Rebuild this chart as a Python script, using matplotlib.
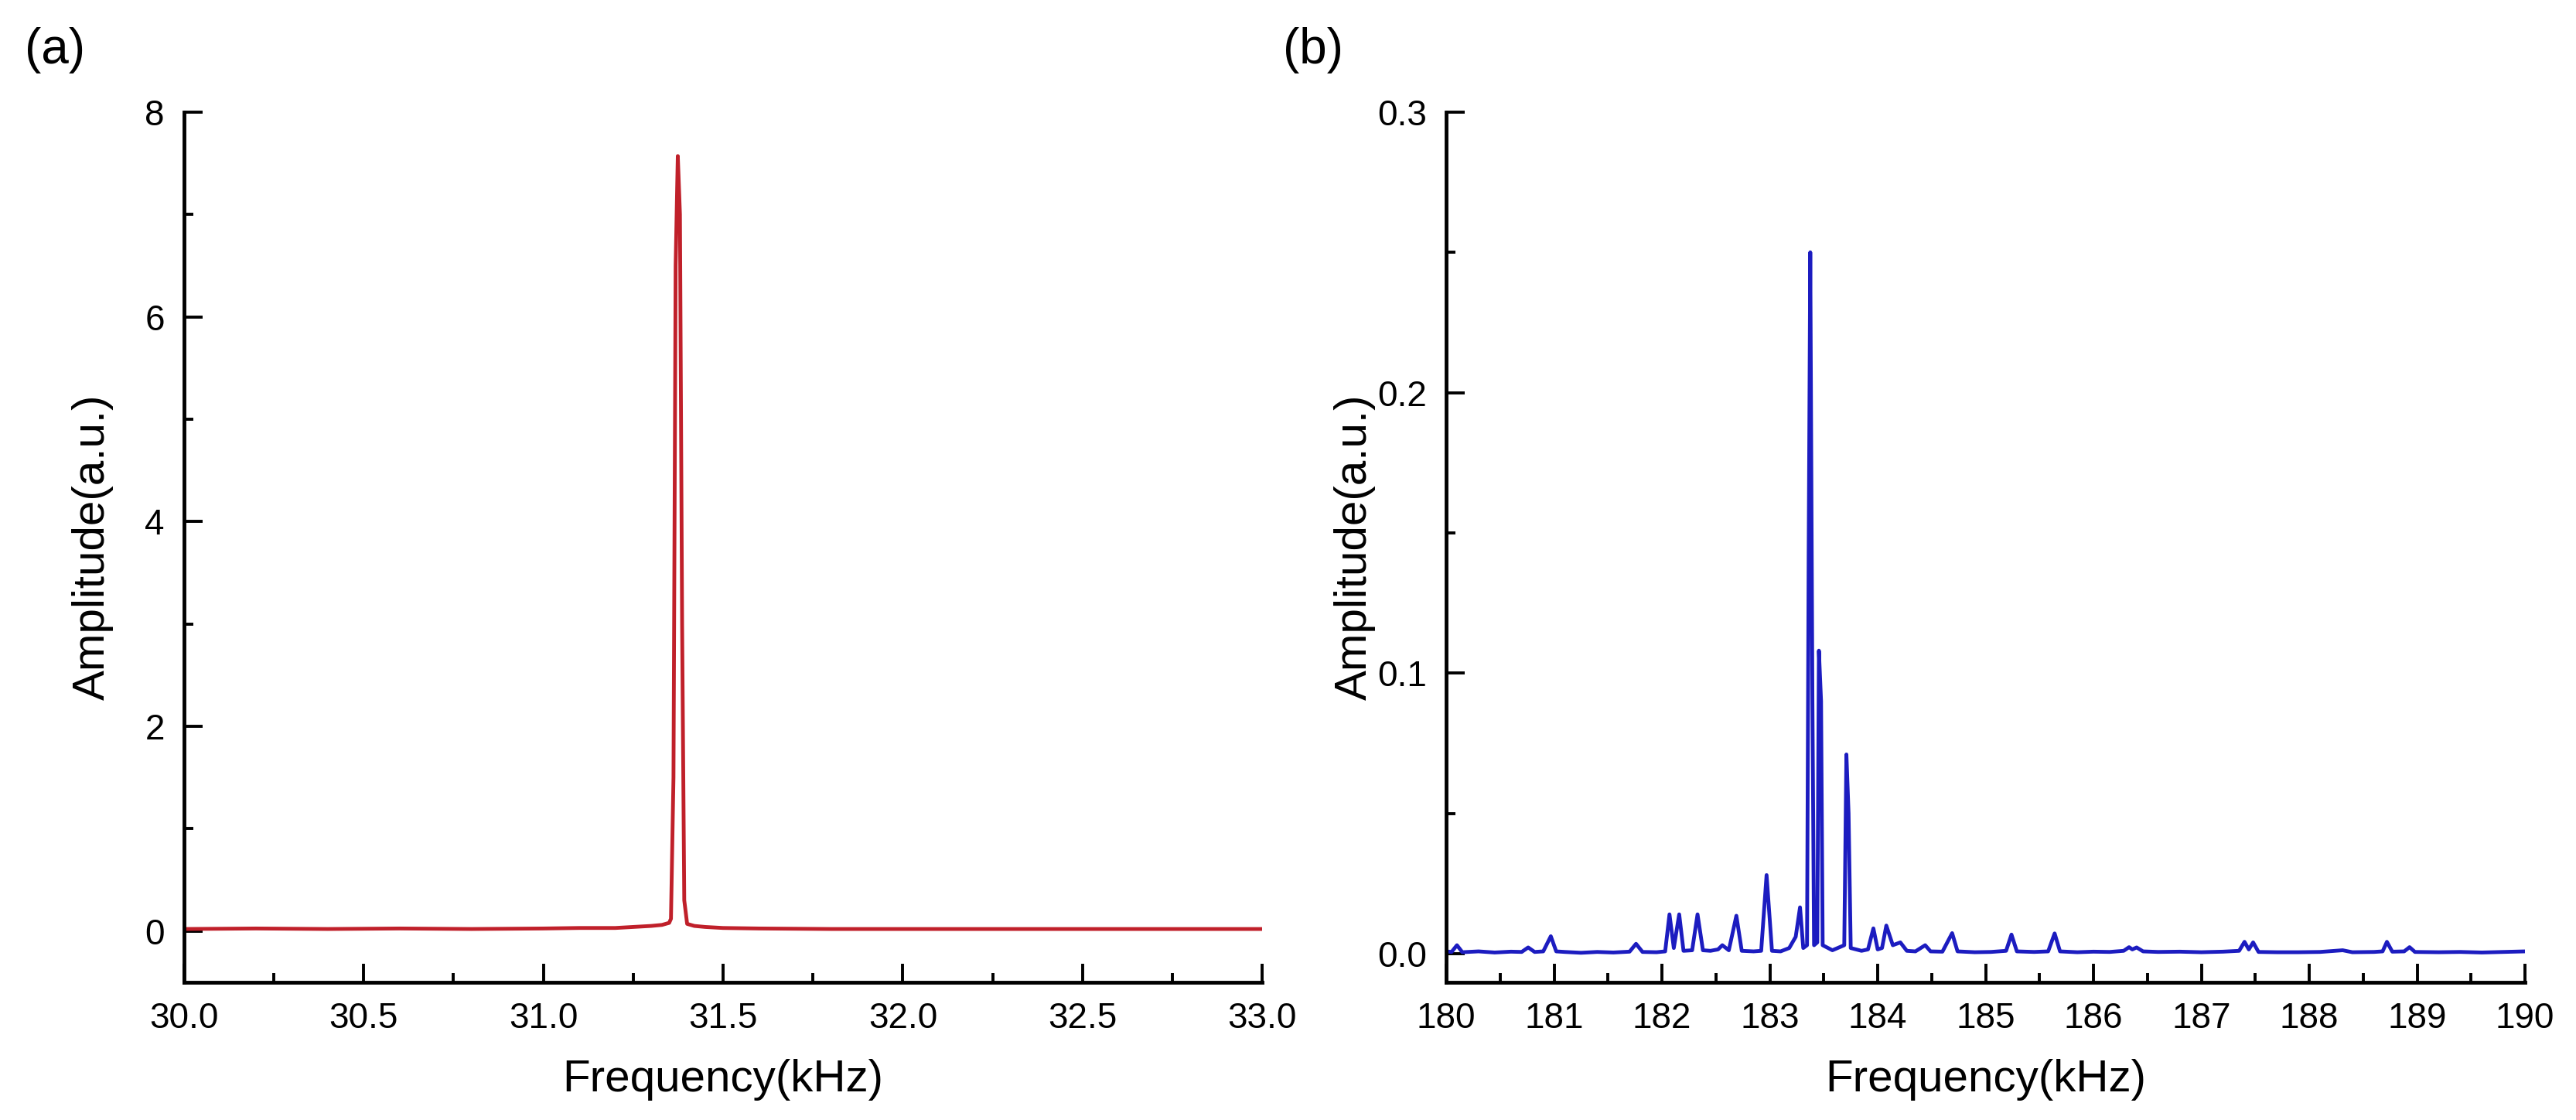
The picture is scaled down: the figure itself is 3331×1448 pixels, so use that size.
import matplotlib
matplotlib.use("Agg")
import matplotlib.pyplot as plt
from matplotlib.ticker import MultipleLocator, FormatStrFormatter

plt.rcParams['font.family'] = ['Liberation Sans', 'DejaVu Sans']

# (a) spectrum around the fundamental, kHz / a.u.
freq_a = [30.00, 30.20, 30.40, 30.60, 30.80, 31.00, 31.10, 31.20, 31.25, 31.30,
          31.33, 31.35, 31.355, 31.362, 31.368, 31.374, 31.380, 31.386, 31.392, 31.40,
          31.42, 31.45, 31.50, 31.60, 31.80, 32.00, 32.20, 32.40, 32.60, 32.80, 33.00]
amp_a = [0.02, 0.025, 0.02, 0.025, 0.02, 0.025, 0.03, 0.03, 0.04, 0.05,
         0.06, 0.08, 0.12, 1.5, 6.5, 7.57, 7.0, 3.0, 0.3, 0.07,
         0.05, 0.04, 0.03, 0.025, 0.02, 0.02, 0.02, 0.02, 0.02, 0.02, 0.02]

# (b) spectrum around 180-190 kHz
freq_b = [180.00, 180.05, 180.10, 180.15, 180.30, 180.45, 180.60, 180.70, 180.76, 180.82,
          180.90, 180.97, 181.02, 181.10, 181.25, 181.40, 181.55, 181.70, 181.76, 181.82,
          181.95, 182.03, 182.07, 182.11, 182.16, 182.20, 182.28, 182.33, 182.38, 182.45,
          182.52, 182.56, 182.62, 182.69, 182.74, 182.85, 182.92, 182.97, 183.02, 183.10,
          183.18, 183.24, 183.28, 183.31, 183.345, 183.36, 183.375, 183.395, 183.41, 183.44,
          183.455, 183.475, 183.49, 183.58, 183.69, 183.71, 183.73, 183.75, 183.85, 183.91,
          183.96, 184.00, 184.04, 184.08, 184.14, 184.21, 184.27, 184.35, 184.44, 184.49,
          184.60, 184.69, 184.74, 184.90, 185.05, 185.19, 185.24, 185.29, 185.45, 185.58,
          185.64, 185.69, 185.85, 186.00, 186.15, 186.28, 186.33, 186.36, 186.40, 186.46,
          186.60, 186.80, 187.00, 187.20, 187.35, 187.40, 187.44, 187.48, 187.53, 187.70,
          187.90, 188.10, 188.31, 188.40, 188.60, 188.68, 188.72, 188.77, 188.88, 188.93,
          188.98, 189.20, 189.40, 189.60, 189.80, 190.00]
amp_b = [0.0008, 0.0006, 0.0030, 0.0005, 0.0008, 0.0004, 0.0007, 0.0006, 0.0022, 0.0006,
         0.0008, 0.0062, 0.0008, 0.0006, 0.0003, 0.0006, 0.0004, 0.0007, 0.0035, 0.0006,
         0.0005, 0.0008, 0.0140, 0.0020, 0.0140, 0.0010, 0.0012, 0.0140, 0.0012, 0.0010,
         0.0015, 0.0030, 0.0012, 0.0135, 0.0010, 0.0008, 0.0010, 0.0280, 0.0010, 0.0008,
         0.0020, 0.0060, 0.0165, 0.0020, 0.0030, 0.1420, 0.2500, 0.0900, 0.0030, 0.0040,
         0.1080, 0.0900, 0.0030, 0.0012, 0.0030, 0.0710, 0.0500, 0.0020, 0.0010, 0.0015,
         0.0090, 0.0015, 0.0020, 0.0100, 0.0030, 0.0040, 0.0010, 0.0008, 0.0030, 0.0008,
         0.0007, 0.0073, 0.0008, 0.0005, 0.0006, 0.0010, 0.0068, 0.0008, 0.0006, 0.0008,
         0.0072, 0.0008, 0.0005, 0.0007, 0.0006, 0.0010, 0.0023, 0.0015, 0.0022, 0.0008,
         0.0006, 0.0007, 0.0005, 0.0007, 0.0010, 0.0042, 0.0015, 0.0040, 0.0006, 0.0005,
         0.0005, 0.0006, 0.0012, 0.0005, 0.0006, 0.0008, 0.0042, 0.0007, 0.0008, 0.0023,
         0.0006, 0.0005, 0.0006, 0.0004, 0.0006, 0.0008]

fig = plt.figure(figsize=(33.31, 14.48), dpi=100)
ax_a = fig.add_axes([0.0714, 0.123, 0.4186, 0.777])
ax_b = fig.add_axes([0.5614, 0.123, 0.4188, 0.777])

ax_a.plot(freq_a, amp_a, color='#c0202a', lw=3.5)
ax_b.plot(freq_b, amp_b, color='#1c1cc0', lw=3.5)

ax_a.set_xlim(30, 33)
ax_a.set_ylim(-0.5, 8)
ax_a.xaxis.set_major_locator(MultipleLocator(0.5))
ax_a.xaxis.set_minor_locator(MultipleLocator(0.25))
ax_a.xaxis.set_major_formatter(FormatStrFormatter('%.1f'))
ax_a.yaxis.set_major_locator(MultipleLocator(2))
ax_a.yaxis.set_minor_locator(MultipleLocator(1))

ax_b.set_xlim(180, 190)
ax_b.set_ylim(-0.0102, 0.3)
ax_b.xaxis.set_major_locator(MultipleLocator(1))
ax_b.xaxis.set_minor_locator(MultipleLocator(0.5))
ax_b.yaxis.set_major_locator(MultipleLocator(0.1))
ax_b.yaxis.set_minor_locator(MultipleLocator(0.05))
ax_b.yaxis.set_major_formatter(FormatStrFormatter('%.1f'))

for ax in (ax_a, ax_b):
    ax.spines['top'].set_visible(False)
    ax.spines['right'].set_visible(False)
    for s in ('left', 'bottom'):
        ax.spines[s].set_linewidth(3.5)
    ax.tick_params(which='both', direction='in', width=2.8, labelsize=33, pad=18)
    ax.tick_params(which='major', length=17)
    ax.tick_params(which='minor', length=8.5)
    ax.set_xlabel('Frequency(kHz)', fontsize=42, labelpad=22)
    ax.set_ylabel('Amplitude(a.u.)', fontsize=42)
    ax.yaxis.set_label_coords(-0.065, 0.5)

fig.text(0.0096, 0.955, '(a)', fontsize=46, va='center', ha='left')
fig.text(0.498, 0.955, '(b)', fontsize=46, va='center', ha='left')

fig.savefig('out.png', dpi=100, facecolor='white')
